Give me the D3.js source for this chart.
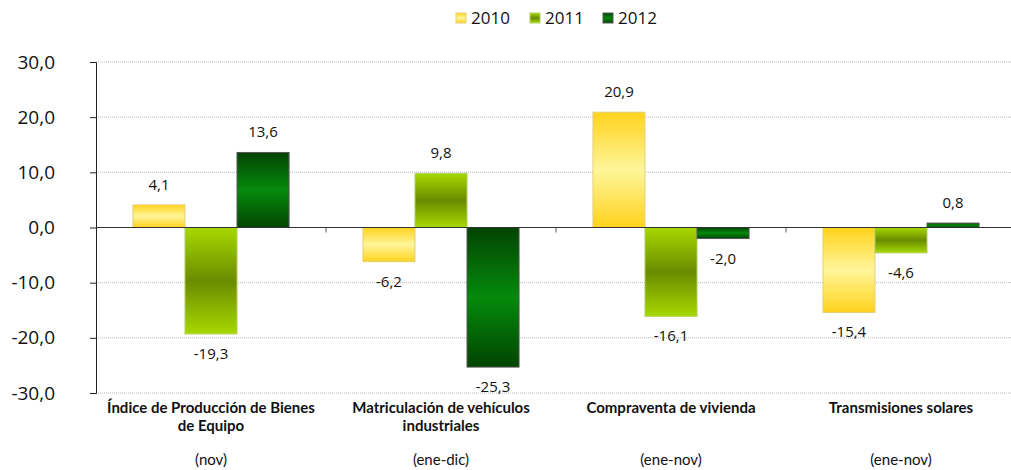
<!DOCTYPE html>
<html>
<head>
<meta charset="utf-8">
<script src="https://cdn.jsdelivr.net/npm/d3@7"></script>
<style>
  body { margin: 0; background: #fff; }
  svg { display: block; }
  .tick text { font-family: "Open Sans", sans-serif; }
</style>
</head>
<body>
<div id="chart"></div>
<script>
// data
var categories = [
	["Índice de Producción de Bienes", "de Equipo"],
	["Matriculación de vehículos", "industriales"],
	["Compraventa de vivienda"],
	["Transmisiones solares"]
];
var periods = ["(nov)", "(ene-dic)", "(ene-nov)", "(ene-nov)"];
var years = ["2010", "2011", "2012"];
var values2010 = [4.1, -6.2, 20.9, -15.4];
var values2011 = [-19.3, 9.8, -16.1, -4.6];
var values2012 = [13.6, -25.3, -2.0, 0.8];
var yTicks = [-30, -20, -10, 0, 10, 20, 30];

var series = [values2010, values2011, values2012];

// gradients per year: edge / middle colours, plus stroke
var grads = [
	{ edge: "#ffd31c", mid: "#fff59a", stroke: "#e3d07a" },
	{ edge: "#a6d800", mid: "#6a8c00", stroke: "#b5d060" },
	{ edge: "#024402", mid: "#058a0c", stroke: "#555" }
];

function fmt(v) {
	return d3.format(".1f")(v).replace(".", ",").replace("\u2212", "-");
}

var W = 1011, H = 470;
var margin = { top: 62, left: 96 };
var plotW = 920, plotH = 331;

var svg = d3.select("#chart").append("svg")
	.attr("width", W)
	.attr("height", H);

var defs = svg.append("defs");
grads.forEach(function(g, i) {
	var lg = defs.append("linearGradient")
		.attr("id", "g" + i)
		.attr("x1", 0).attr("y1", 0).attr("x2", 0).attr("y2", 1);
	lg.append("stop").attr("offset", "0%").attr("stop-color", g.edge);
	lg.append("stop").attr("offset", "50%").attr("stop-color", g.mid);
	lg.append("stop").attr("offset", "100%").attr("stop-color", g.edge);
});

// title, mostly cut by the top edge as in the original
svg.append("text")
	.attr("x", 532).attr("y", -4)
	.attr("text-anchor", "middle")
	.style("font-family", "Lato, sans-serif")
	.style("font-size", "16px")
	.text("(tasa de variación interanual, %)");

var g = svg.append("g")
	.attr("transform", "translate(" + margin.left + "," + margin.top + ")");

var x0 = d3.scaleBand()
	.domain(d3.range(categories.length))
	.range([0, plotW]);

var x1 = d3.scaleBand()
	.domain(d3.range(years.length))
	.range([0, x0.bandwidth()])
	.paddingOuter(0.71)
	.paddingInner(0);

var y = d3.scaleLinear()
	.domain([-30, 30])
	.range([plotH, 0]);

// grid lines
g.append("g")
	.selectAll("line")
	.data(yTicks.filter(function(d) { return d != 0; }))
	.enter().append("line")
	.attr("x1", 0).attr("x2", plotW)
	.attr("y1", function(d) { return y(d); })
	.attr("y2", function(d) { return y(d); })
	.attr("stroke", "#b8b8b8")
	.attr("stroke-width", 1)
	.attr("stroke-dasharray", "1,1");

// y axis
var yAxis = d3.axisLeft(y)
	.tickValues(yTicks)
	.tickSize(6)
	.tickPadding(35)
	.tickFormat(fmt);

var ya = g.append("g").call(yAxis);
ya.select(".domain").attr("stroke", "#222");
ya.selectAll(".tick line").attr("stroke", "#222");
ya.selectAll(".tick text")
	.style("font-size", "19px")
	.attr("fill", "#111");

// bars
var groups = g.selectAll("g.cat")
	.data(categories)
	.enter().append("g")
	.attr("class", "cat")
	.attr("transform", function(d, i) { return "translate(" + x0(i) + ",0)"; });

groups.each(function(c, ci) {
	var grp = d3.select(this);
	series.forEach(function(vals, si) {
		var v = vals[ci];
		grp.append("rect")
			.attr("x", x1(si))
			.attr("width", x1.bandwidth())
			.attr("y", y(Math.max(0, v)))
			.attr("height", Math.abs(y(v) - y(0)))
			.attr("fill", "url(#g" + si + ")")
			.attr("stroke", grads[si].stroke)
			.attr("stroke-width", 1);

		grp.append("text")
			.attr("x", x1(si) + x1.bandwidth() / 2)
			.attr("y", v >= 0 ? y(v) - 15 : y(v) + 25)
			.attr("text-anchor", "middle")
			.style("font-family", "'Open Sans', sans-serif")
			.style("font-size", "15px")
			.attr("fill", "#111")
			.text(fmt(v));
	});
});

// zero line
g.append("line")
	.attr("x1", 0).attr("x2", plotW)
	.attr("y1", y(0)).attr("y2", y(0))
	.attr("stroke", "#333")
	.attr("stroke-width", 1.2);

// small tick marks between categories on zero line
g.selectAll("line.sep")
	.data(d3.range(1, categories.length))
	.enter().append("line")
	.attr("x1", function(d) { return x0(d); })
	.attr("x2", function(d) { return x0(d); })
	.attr("y1", y(0)).attr("y2", y(0) + 5)
	.attr("stroke", "#555");

// category labels
groups.each(function(c, ci) {
	var grp = d3.select(this);
	c.forEach(function(line, li) {
		grp.append("text")
			.attr("x", x0.bandwidth() / 2)
			.attr("y", plotH + 20 + li * 18)
			.attr("text-anchor", "middle")
			.style("font-family", "Lato, sans-serif")
			.style("font-weight", "bold")
			.style("font-size", "15px")
			.attr("fill", "#111")
			.text(line);
	});
	grp.append("text")
		.attr("x", x0.bandwidth() / 2)
		.attr("y", plotH + 72)
		.attr("text-anchor", "middle")
		.style("font-family", "Lato, sans-serif")
		.style("font-size", "15px")
		.attr("fill", "#111")
		.text(periods[ci]);
});

// legend
var legX = [456, 530, 603];
var leg = svg.append("g");
years.forEach(function(yr, i) {
	leg.append("rect")
		.attr("x", legX[i]).attr("y", 13)
		.attr("width", 10).attr("height", 10)
		.attr("fill", "url(#g" + i + ")")
		.attr("stroke", grads[i].stroke);
	leg.append("text")
		.attr("x", legX[i] + 15).attr("y", 24)
		.style("font-family", "'Open Sans', sans-serif")
		.style("font-size", "17px")
		.attr("fill", "#111")
		.text(yr);
});
</script>
</body>
</html>
